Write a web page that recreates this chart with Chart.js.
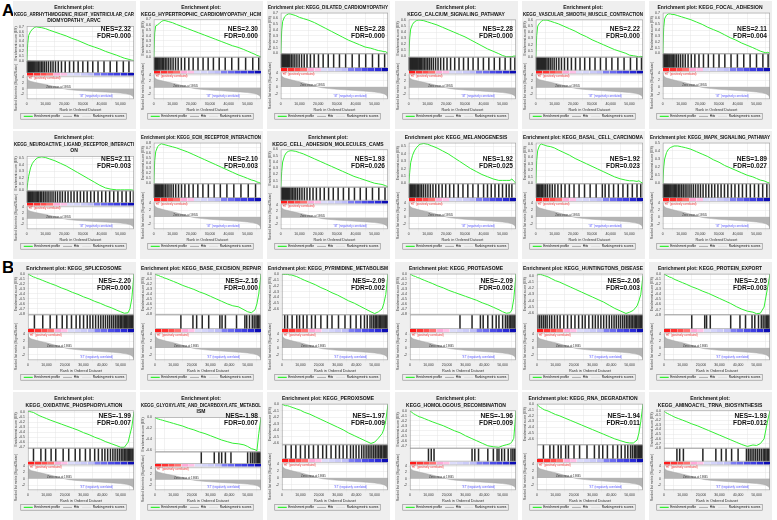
<!DOCTYPE html>
<html><head><meta charset="utf-8">
<script src="https://cdn.jsdelivr.net/npm/chart.js@4/dist/chart.umd.min.js"></script>
<style>
body{margin:0;background:#fff;width:777px;height:520px;position:relative;overflow:hidden;font-family:"Liberation Sans",Arial,sans-serif}
canvas{position:absolute}
.lab{position:absolute;font-weight:bold;font-size:17px;left:2px;line-height:17px}
</style></head><body>
<div class="lab" style="top:2px">A</div>
<div class="lab" style="top:259px">B</div>
<script>
// ---------------- DATA ----------------
const titleLines = [
 ["Enrichment plot:","KEGG_ARRHYTHMOGENIC_RIGHT_VENTRICULAR_CAR","DIOMYOPATHY_ARVC"],
 ["Enrichment plot:","KEGG_HYPERTROPHIC_CARDIOMYOPATHY_HCM"],
 ["Enrichment plot: KEGG_DILATED_CARDIOMYOPATHY"],
 ["Enrichment plot:","KEGG_CALCIUM_SIGNALING_PATHWAY"],
 ["Enrichment plot:","KEGG_VASCULAR_SMOOTH_MUSCLE_CONTRACTION"],
 ["Enrichment plot: KEGG_FOCAL_ADHESION"],
 ["Enrichment plot:","KEGG_NEUROACTIVE_LIGAND_RECEPTOR_INTERACTI","ON"],
 ["Enrichment plot: KEGG_ECM_RECEPTOR_INTERACTION"],
 ["Enrichment plot:","KEGG_CELL_ADHESION_MOLECULES_CAMS"],
 ["Enrichment plot: KEGG_MELANOGENESIS"],
 ["Enrichment plot: KEGG_BASAL_CELL_CARCINOMA"],
 ["Enrichment plot: KEGG_MAPK_SIGNALING_PATHWAY"],
 ["Enrichment plot: KEGG_SPLICEOSOME"],
 ["Enrichment plot: KEGG_BASE_EXCISION_REPAIR"],
 ["Enrichment plot: KEGG_PYRIMIDINE_METABOLISM"],
 ["Enrichment plot: KEGG_PROTEASOME"],
 ["Enrichment plot: KEGG_HUNTINGTONS_DISEASE"],
 ["Enrichment plot: KEGG_PROTEIN_EXPORT"],
 ["Enrichment plot:","KEGG_OXIDATIVE_PHOSPHORYLATION"],
 ["Enrichment plot:","KEGG_GLYOXYLATE_AND_DICARBOXYLATE_METABOL","ISM"],
 ["Enrichment plot: KEGG_PEROXISOME"],
 ["Enrichment plot:","KEGG_HOMOLOGOUS_RECOMBINATION"],
 ["Enrichment plot: KEGG_RNA_DEGRADATION"],
 ["Enrichment plot:","KEGG_AMINOACYL_TRNA_BIOSYNTHESIS"]
];
const nesValues = [2.32,2.30,2.28,2.28,2.22,2.11,2.11,2.10,1.93,1.92,1.92,1.89,
                   -2.20,-2.16,-2.09,-2.09,-2.06,-2.05,-1.99,-1.98,-1.97,-1.96,-1.94,-1.93];
const fdrValues = [0.000,0.000,0.000,0.000,0.000,0.004,0.003,0.003,0.026,0.025,0.023,0.027,
                   0.000,0.000,0.002,0.002,0.003,0.003,0.007,0.007,0.009,0.009,0.011,0.012];
// rank positions (in thousands) at which the running enrichment score was read
const esRanks = [0,0.5,1,2,3,4,5,6,8,10,12,15,18,21,24,27,30,33,36,39,42,45,48,50,52,54,55,56,57.2];
const esProfiles = [
 [0,0.35,0.52,0.6,0.65,0.68,0.7,0.69,0.68,0.66,0.63,0.59,0.55,0.51,0.46,0.42,0.37,0.32,0.28,0.24,0.19,0.15,0.11,0.08,0.05,0.03,0.02,0.01,0],
 [0,0.45,0.58,0.6,0.63,0.66,0.68,0.68,0.66,0.64,0.61,0.57,0.53,0.49,0.45,0.41,0.37,0.33,0.29,0.25,0.21,0.18,0.14,0.11,0.08,0.05,0.03,0.02,0],
 [0,0.4,0.55,0.63,0.66,0.68,0.68,0.67,0.65,0.62,0.6,0.57,0.53,0.48,0.43,0.38,0.33,0.28,0.23,0.19,0.15,0.11,0.09,0.07,0.05,0.04,0.03,0.03,0],
 [0,0.3,0.45,0.53,0.57,0.59,0.6,0.6,0.59,0.57,0.55,0.52,0.48,0.44,0.4,0.36,0.32,0.27,0.22,0.17,0.12,0.08,0.04,0.01,-0.01,-0.01,-0.01,0,0],
 [0,0.35,0.5,0.55,0.58,0.6,0.6,0.6,0.58,0.56,0.54,0.5,0.46,0.42,0.37,0.33,0.28,0.24,0.2,0.16,0.12,0.09,0.06,0.03,0.02,0.01,0,0.01,0],
 [0,0.45,0.6,0.66,0.68,0.68,0.67,0.67,0.65,0.63,0.61,0.58,0.54,0.5,0.45,0.41,0.37,0.32,0.27,0.23,0.18,0.14,0.1,0.07,0.04,0.02,0.01,0.02,0],
 [0,0.12,0.22,0.35,0.42,0.46,0.49,0.51,0.52,0.51,0.49,0.46,0.42,0.38,0.33,0.28,0.23,0.18,0.13,0.08,0.04,0.02,0.01,0.01,0.01,0.01,0.01,0.01,0],
 [0,0.45,0.62,0.72,0.76,0.78,0.77,0.76,0.74,0.72,0.7,0.66,0.62,0.57,0.52,0.47,0.42,0.37,0.32,0.27,0.22,0.17,0.13,0.1,0.07,0.05,0.03,0.02,0],
 [0,0.25,0.4,0.5,0.55,0.57,0.58,0.58,0.57,0.55,0.53,0.49,0.45,0.41,0.37,0.33,0.29,0.25,0.21,0.17,0.14,0.11,0.08,0.06,0.05,0.04,0.03,0.02,0],
 [0,0.15,0.28,0.38,0.44,0.48,0.51,0.53,0.54,0.53,0.51,0.48,0.44,0.4,0.35,0.3,0.25,0.2,0.16,0.12,0.09,0.06,0.04,0.04,0.04,0.04,0.06,0.03,0],
 [0,0.35,0.5,0.58,0.6,0.59,0.58,0.57,0.56,0.54,0.51,0.47,0.43,0.38,0.34,0.3,0.26,0.22,0.18,0.14,0.1,0.07,0.05,0.04,0.04,0.03,0.04,0.02,0],
 [0,0.2,0.3,0.38,0.42,0.44,0.45,0.46,0.46,0.45,0.44,0.42,0.39,0.36,0.33,0.29,0.26,0.22,0.19,0.16,0.13,0.1,0.08,0.06,0.04,0.03,0.02,0.01,0],
 [0,-0.01,-0.02,-0.04,-0.06,-0.07,-0.09,-0.1,-0.13,-0.16,-0.19,-0.23,-0.28,-0.32,-0.37,-0.41,-0.46,-0.5,-0.55,-0.59,-0.64,-0.68,-0.73,-0.76,-0.79,-0.78,-0.7,-0.5,0],
 [0,-0.01,-0.02,-0.03,-0.05,-0.06,-0.08,-0.09,-0.12,-0.15,-0.18,-0.23,-0.27,-0.31,-0.36,-0.4,-0.45,-0.5,-0.55,-0.6,-0.64,-0.66,-0.72,-0.76,-0.78,-0.72,-0.6,-0.4,0],
 [0,0,0,0,0,-0.01,-0.01,-0.02,-0.04,-0.07,-0.1,-0.14,-0.18,-0.23,-0.27,-0.32,-0.36,-0.41,-0.46,-0.5,-0.55,-0.6,-0.65,-0.68,-0.65,-0.6,-0.5,-0.35,0],
 [0,-0.01,-0.02,-0.04,-0.05,-0.07,-0.08,-0.1,-0.13,-0.16,-0.19,-0.24,-0.28,-0.33,-0.37,-0.41,-0.45,-0.49,-0.53,-0.58,-0.62,-0.67,-0.72,-0.76,-0.79,-0.78,-0.72,-0.5,0],
 [0,0.02,0.02,0.02,0.01,0,-0.01,-0.02,-0.05,-0.08,-0.1,-0.14,-0.18,-0.22,-0.26,-0.3,-0.34,-0.38,-0.42,-0.47,-0.52,-0.56,-0.6,-0.58,-0.55,-0.48,-0.4,-0.3,0],
 [0,-0.01,-0.02,-0.04,-0.06,-0.07,-0.09,-0.11,-0.14,-0.17,-0.2,-0.25,-0.29,-0.34,-0.38,-0.43,-0.48,-0.53,-0.58,-0.64,-0.69,-0.73,-0.75,-0.78,-0.77,-0.65,-0.45,-0.25,0],
 [0,0.02,0.01,0,-0.01,-0.03,-0.05,-0.07,-0.1,-0.13,-0.16,-0.2,-0.24,-0.28,-0.32,-0.36,-0.41,-0.45,-0.5,-0.54,-0.59,-0.63,-0.67,-0.7,-0.7,-0.6,-0.45,-0.3,0],
 [0,-0.01,-0.02,-0.03,-0.04,-0.05,-0.06,-0.07,-0.09,-0.11,-0.13,-0.16,-0.2,-0.23,-0.27,-0.3,-0.34,-0.38,-0.42,-0.45,-0.48,-0.49,-0.51,-0.54,-0.58,-0.6,-0.62,-0.3,0],
 [0,0,-0.01,-0.02,-0.02,-0.03,-0.04,-0.05,-0.07,-0.09,-0.12,-0.15,-0.19,-0.23,-0.27,-0.31,-0.35,-0.39,-0.44,-0.48,-0.52,-0.56,-0.6,-0.58,-0.52,-0.45,-0.38,-0.25,0],
 [0,-0.02,-0.03,-0.06,-0.08,-0.1,-0.12,-0.13,-0.16,-0.19,-0.22,-0.26,-0.3,-0.35,-0.4,-0.44,-0.5,-0.55,-0.6,-0.65,-0.7,-0.72,-0.73,-0.7,-0.68,-0.66,-0.62,-0.55,0],
 [0,-0.02,-0.04,-0.06,-0.08,-0.1,-0.11,-0.12,-0.15,-0.18,-0.2,-0.24,-0.28,-0.32,-0.36,-0.4,-0.44,-0.48,-0.52,-0.56,-0.6,-0.63,-0.66,-0.67,-0.67,-0.62,-0.5,-0.3,0],
 [0,-0.02,-0.04,-0.06,-0.08,-0.1,-0.12,-0.14,-0.17,-0.2,-0.23,-0.28,-0.32,-0.37,-0.42,-0.47,-0.52,-0.57,-0.62,-0.67,-0.72,-0.76,-0.73,-0.74,-0.7,-0.6,-0.4,-0.2,0]
];
// y-axis ranges of the running enrichment score panels
const esAxisMin = [-0.005,-0.005,-0.005,-0.02,-0.005,-0.005,-0.005,-0.005,-0.005,-0.005,-0.005,-0.005,
                   -0.82,-0.82,-0.7,-0.82,-0.62,-0.8,-0.72,-0.64,-0.62,-0.75,-0.7,-0.8];
const esAxisMax = [0.71,0.7,0.7,0.61,0.61,0.7,0.53,0.8,0.6,0.55,0.62,0.5,
                   0.005,0.005,0.01,0.005,0.03,0.005,0.03,0.005,0.01,0.005,0.005,0.005];
// gene-set member positions in the ranked list (thousands)
const hitRanks = [
 [0.1,0.25,0.4,0.6,0.8,1.0,1.2,1.5,1.8,2.1,2.5,2.9,3.4,3.8,4.3,4.9,5.5,6.2,7.0,7.8,8.6,9.5,10.5,11.6,12.8,14.0,15.3,16.8,18.5,20.5,22.8,25.0,27.4,29.9,32.5,35.2,38.0,41.2,44.5,48.0,51.5,54.5],
 [0.15,0.3,0.5,0.7,0.95,1.2,1.5,1.9,2.3,2.8,3.3,3.9,4.6,5.3,6.1,7.0,8.0,9.1,10.3,11.6,13.0,14.7,16.5,18.7,21.0,23.6,26.3,29.0,31.8,34.9,38.1,41.6,45.2,49.0,52.8,56.0],
 [0.1,0.3,0.5,0.75,1.0,1.3,1.6,2.0,2.4,2.9,3.5,4.1,4.8,5.6,6.5,7.5,8.6,9.8,11.1,12.5,14.0,15.8,17.8,20.1,22.6,25.3,28.2,31.3,34.6,38.1,41.8,45.3,48.9,52.2,55.4],
 [0.05,0.15,0.25,0.35,0.5,0.65,0.8,1.0,1.2,1.4,1.65,1.9,2.2,2.5,2.85,3.2,3.6,4.0,4.5,5.0,5.6,6.2,6.9,7.6,8.4,9.2,10.1,11.0,12.0,13.1,14.3,15.6,17.0,18.6,20.4,22.3,24.5,26.8,29.2,31.7,34.3,37.0,39.8,42.7,45.6,48.5,51.4,54.3,56.6],
 [0.1,0.25,0.45,0.65,0.9,1.15,1.45,1.8,2.15,2.55,3.0,3.5,4.05,4.65,5.3,6.0,6.8,7.7,8.7,9.8,11.0,12.3,13.7,15.3,17.0,19.0,21.2,23.6,26.1,28.8,31.6,34.5,37.5,40.6,43.8,47.1,50.5,53.9,56.4],
 [0.1,0.3,0.5,0.7,0.9,1.15,1.4,1.7,2.0,2.4,2.8,3.3,3.8,4.4,5.0,5.7,6.5,7.4,8.4,9.5,10.7,12.0,13.5,15.2,17.1,19.3,21.7,24.3,27.1,30.0,33.1,36.4,39.8,43.2,46.6,50.0,53.4,56.2],
 [0.1,0.3,0.5,0.8,1.1,1.4,1.8,2.2,2.7,3.2,3.8,4.4,5.0,5.7,6.4,7.2,8.0,8.9,9.8,10.8,11.8,12.9,14.0,15.2,16.4,17.7,19.0,20.5,22.0,23.6,25.2,26.9,28.6,30.4,32.2,34.1,36.0,38.0,40.0,42.1,44.2,46.4,48.6,50.8,53.0,55.2,56.9],
 [0.1,0.3,0.5,0.7,1.0,1.3,1.6,2.0,2.4,2.9,3.4,4.0,4.7,5.4,6.2,7.1,8.1,9.2,10.4,11.7,13.2,14.8,16.6,18.7,21.0,23.5,26.2,29.1,32.2,35.5,39.0,42.7,46.5,50.4,54.3],
 [0.1,0.3,0.5,0.7,0.9,1.2,1.5,1.8,2.2,2.6,3.1,3.6,4.2,4.8,5.5,6.3,7.1,8.0,9.0,10.1,11.3,12.6,14.0,15.5,17.2,19.0,21.0,23.2,25.5,28.0,30.6,33.4,36.3,39.3,42.4,45.6,48.9,52.3,55.6],
 [0.1,0.3,0.5,0.8,1.1,1.4,1.8,2.2,2.7,3.2,3.8,4.5,5.2,6.0,6.9,7.9,9.0,10.2,11.5,12.9,14.4,16.0,17.8,19.7,21.8,24.0,26.4,28.9,31.5,34.2,37.0,39.9,42.0,44.0,46.0,48.0,50.0,52.0,53.5,55.0],
 [0.2,0.5,0.9,1.3,1.8,2.3,2.9,3.6,4.4,5.3,6.3,7.5,8.8,10.2,11.8,13.6,15.6,17.9,20.4,23.1,26.0,29.0,32.2,35.5,37.0,39.0,41.5,44.0,46.5,49.0,51.5,54.0,56.0],
 [0.1,0.3,0.5,0.7,0.9,1.2,1.5,1.8,2.1,2.5,2.9,3.3,3.8,4.3,4.9,5.5,6.1,6.8,7.5,8.3,9.1,10.0,10.9,11.9,12.9,14.0,15.1,16.3,17.5,18.8,20.1,21.5,23.0,24.5,26.1,27.7,29.4,31.1,32.9,34.7,36.6,38.5,40.5,42.5,44.6,46.7,48.9,51.1,53.3,55.5,57.0],
 [3.5,8.0,12.0,15.5,18.5,21.0,23.5,26.0,28.0,30.0,32.0,33.5,35.0,36.5,38.0,39.3,40.6,41.8,43.0,44.1,45.2,46.2,47.2,48.1,49.0,49.8,50.6,51.3,52.0,52.7,53.3,53.9,54.5,55.0,55.5,56.0,56.4,56.8,57.1],
 [14.0,20.5,22.5,25.5,29.0,35.0,36.2,38.0,44.0,48.5,49.5,51.0,52.5,53.5,54.5,55.3,56.0,56.7],
 [1.5,3.0,5.5,8.0,9.5,11.5,13.5,16.0,18.0,21.0,24.5,27.0,30.5,34.0,37.0,40.0,42.5,44.5,46.0,47.5,48.5,49.5,50.3,51.0,51.8,52.5,53.2,53.9,54.5,55.1,55.7,56.2,56.7,57.1],
 [27.0,33.5,38.0,39.5,42.0,44.5,46.5,48.0,50.0,51.5,52.5,53.5,54.3,55.0,55.6,56.2,56.7,57.1],
 [0.5,1.5,2.5,3.5,4.5,5.5,6.8,8.0,9.5,11.0,12.5,14.5,16.5,18.5,20.5,22.5,24.5,26.0,28.0,30.0,31.5,33.0,34.5,36.0,37.5,39.0,40.3,41.6,42.8,44.0,45.1,46.2,47.2,48.2,49.1,50.0,50.8,51.6,52.4,53.1,53.8,54.5,55.1,55.7,56.3,56.8,57.1],
 [15.0,22.0,23.0,25.0,36.0,41.0,44.0,47.5,49.0,51.0,52.5,53.5,54.5,55.3,56.0,56.6,57.0],
 [3.0,7.0,9.5,12.5,15.0,19.0,22.0,25.5,28.0,31.0,33.5,36.0,38.0,40.0,41.5,43.0,44.5,45.8,47.0,48.2,49.3,50.3,51.2,52.0,52.8,53.5,54.2,54.9,55.5,56.1,56.6,57.0],
 [25.0,32.0,34.5,36.0,38.0,41.0,50.0,51.5,52.5,53.5,54.5,55.2,55.8,56.4,56.9],
 [2.0,5.0,7.5,10.0,12.5,14.5,17.0,19.5,22.0,24.0,26.5,29.0,31.0,33.0,35.0,37.0,38.5,40.0,41.5,43.0,44.2,45.4,46.5,47.5,48.5,49.5,50.4,51.3,52.2,53.0,53.8,54.6,55.3,56.0,56.6,57.1],
 [10.0,11.5,13.0,33.5,35.0,37.0,42.0,45.0,47.0,48.0,49.5,51.0,53.0,54.5,55.5,56.3,57.0],
 [3.5,7.0,9.0,11.5,13.0,15.5,17.0,20.0,23.0,27.0,31.0,33.5,35.5,38.0,41.0,43.5,45.5,47.5,49.0,50.5,51.5,52.5,53.3,54.0,54.7,55.4,56.0,56.5,57.0],
 [7.0,8.5,10.5,21.0,28.0,31.0,33.5,36.5,40.0,44.5,45.5,46.5,47.5,48.5,49.5,50.5,51.5,52.5,53.5,54.3,55.0,55.7,56.3,56.9]
];
// ranked list metric (Signal2Noise) read at rank positions (thousands)
const metricRanks  = [0,0.3,1,2,4,6,8,10,12,14,16,18,19.845,22,26,30,34,38,42,46,50,53,55,56.5,57.2];
const metricValues = [4.2,3.4,2.9,2.6,2.3,2.0,1.75,1.5,1.2,0.9,0.6,0.3,0,-0.25,-0.5,-0.7,-0.85,-1.0,-1.15,-1.3,-1.5,-1.75,-2.0,-2.5,-3.3];
const zeroCross = 19845;
const datasetSize = 57.2; // thousands of genes
// colour bar under the hits (red = positively correlated -> blue = negatively correlated)
const stripColors = ['#ff1a1a','#ff3333','#ff4d4d','#ff7070','#ffa8d8','#ffc0e6','#dcdcfa','#d4d4fa',
                     '#cacaf8','#bdbdf8','#7d7df2','#6a6af0','#4c4ce8','#3d3de2','#2a2ad8','#0c0cb4'];

// ---------------- DRAWING ----------------
Chart.defaults.font.family = '"Liberation Sans", Arial, sans-serif';
Chart.defaults.color = '#333';
const FONT = '"Liberation Sans", Arial, sans-serif';
const colX = [13,140,267,395,522,649];
const rowY = [1,131,262,392];
const stripStep = datasetSize / stripColors.length;

const gseaPlugin = {
  id: 'gsea',
  beforeDraw(chart) {
    const {ctx, chartArea: a} = chart;
    ctx.save();
    ctx.fillStyle = '#efefef';
    ctx.fillRect(0, 0, chart.width, chart.height);
    ctx.fillStyle = '#fff';
    ctx.fillRect(a.left, a.top, a.width, a.height);
    ctx.restore();
  },
  beforeDatasetsDraw(chart) {
    const {ctx, chartArea: a, scales: s} = chart;
    ctx.save();
    ctx.fillStyle = '#fff';
    ctx.fillRect(a.left, s.yHit.top, a.width, s.yHit.bottom - s.yHit.top);
    ctx.restore();
  },
  afterDatasetsDraw(chart, args, o) {
    const {ctx, chartArea: a, scales: s} = chart;
    ctx.save();
    ctx.strokeStyle = '#999'; ctx.lineWidth = 0.6;
    for (const id of ['yES','yHit','yRank']) {
      const sc = s[id];
      ctx.strokeRect(a.left + 0.3, sc.top + 0.3, a.width - 0.6, sc.bottom - sc.top - 0.6);
    }
    // NES / FDR
    ctx.fillStyle = '#111';
    ctx.font = 'bold 6.6px ' + FONT;
    ctx.textAlign = 'right'; ctx.textBaseline = 'middle';
    ctx.fillText('NES=' + o.nes.toFixed(2), a.right - 3, o.nesY);
    ctx.fillText('FDR=' + o.fdr.toFixed(3), a.right - 3, o.nesY + 7);
    // ranked-list annotations
    const x = s.x, yr = s.yRank;
    ctx.font = '2.8px ' + FONT;
    ctx.textAlign = 'left'; ctx.fillStyle = '#f03030';
    ctx.fillText("'HT' (positively correlated)", a.left + 1.5, yr.top + 2.5);
    ctx.textAlign = 'center'; ctx.fillStyle = '#5050ff';
    ctx.fillText("'ST' (negatively correlated)", x.getPixelForValue(37), yr.bottom - 2.5);
    ctx.fillStyle = '#333';
    ctx.fillText('Zero cross at ' + zeroCross, x.getPixelForValue(17), yr.getPixelForValue(0) - 2);
    ctx.restore();
  },
  afterDraw(chart) {
    const hb = chart.legend && chart.legend.legendHitBoxes;
    if (!hb || !hb.length) return;
    const ctx = chart.ctx;
    const x0 = Math.min(...hb.map(b => b.left)) - 3;
    const x1 = Math.max(...hb.map(b => b.left + b.width)) + 2;
    const y0 = hb[0].top - 1.2, y1 = hb[0].top + hb[0].height + 1.2;
    ctx.save();
    ctx.strokeStyle = '#888'; ctx.lineWidth = 0.6;
    ctx.strokeRect(x0, y0, x1 - x0, y1 - y0);
    ctx.restore();
  }
};

function makePanel(i) {
  const cv = document.createElement('canvas');
  cv.width = 123; cv.height = 128;
  cv.style.left = colX[i % 6] + 'px';
  cv.style.top = rowY[Math.floor(i / 6)] + 'px';
  document.body.appendChild(cv);
  const row = Math.floor(i / 6);
  const nesY = row < 2 ? 28.5 : (row === 2 ? 19 : 24.5);
  const tickFont = {size: 3.4};
  const stripSets = stripColors.map((c, k) => ({
    label: 'strip', yAxisID: 'yStrip', order: 3,
    data: [{x: k * stripStep, y: 1}, {x: (k + 1) * stripStep, y: 1}],
    borderWidth: 0, borderColor: c, backgroundColor: c, pointRadius: 0, fill: 'origin'
  }));
  new Chart(cv.getContext('2d'), {
    type: 'line',
    data: {datasets: [
      {label: 'Enrichment profile', yAxisID: 'yES', order: 0,
       data: esRanks.map((r, k) => ({x: r, y: esProfiles[i][k]})),
       borderColor: '#33ee33', borderWidth: 1, pointRadius: 0, tension: 0, fill: false},
      {type: 'bar', label: 'Hits', yAxisID: 'yHit', order: 1, grouped: false,
       data: hitRanks[i].map(h => ({x: h, y: [0, 1]})),
       backgroundColor: '#262626', barThickness: 0.85},
      {label: 'Ranking metric scores', yAxisID: 'yRank', order: 2,
       data: metricRanks.map((r, k) => ({x: r, y: metricValues[k]})),
       borderColor: '#a8a8a8', backgroundColor: '#b4b4b4', borderWidth: 0.5, pointRadius: 0, tension: 0, fill: 'origin'},
      ...stripSets
    ]},
    options: {
      responsive: false, animation: false, devicePixelRatio: 1,
      layout: {padding: {left: 1, right: 2, top: 0, bottom: 1}},
      plugins: {
        tooltip: {enabled: false},
        title: {display: true, text: titleLines[i], color: '#111',
                font: {size: 5, weight: 'bold', lineHeight: 1.35}, padding: {top: 3, bottom: 2}},
        legend: {position: 'bottom',
          labels: {font: {size: 3.2}, color: '#222', usePointStyle: true, pointStyleWidth: 9, boxHeight: 3, padding: 3,
            generateLabels: () => [
              {text: 'Enrichment profile', strokeStyle: '#33ee33', fillStyle: '#33ee33', lineWidth: 1.2, pointStyle: 'line', datasetIndex: 0},
              {text: 'Hits', strokeStyle: '#777', fillStyle: '#777', lineWidth: 0.6, pointStyle: 'line', datasetIndex: 1},
              {text: 'Ranking metric scores', strokeStyle: '#ddd', fillStyle: '#ddd', lineWidth: 1, pointStyle: 'line', datasetIndex: 2}
            ]}},
        gsea: {nes: nesValues[i], fdr: fdrValues[i], nesY: nesY}
      },
      scales: {
        x: {type: 'linear', min: 0, max: datasetSize, offset: false,
            ticks: {stepSize: 10, includeBounds: false, font: tickFont, padding: 1, maxRotation: 0, autoSkip: false,
                    callback: v => (v * 1000).toLocaleString('en-US')},
            grid: {color: '#e4e4e4', lineWidth: 0.5, tickLength: 2},
            border: {display: false},
            title: {display: true, text: 'Rank in Ordered Dataset', font: {size: 3.8}, padding: {top: 0, bottom: 0}}},
        yES: {type: 'linear', position: 'left', stack: 'g', stackWeight: 46, weight: 4,
              min: esAxisMin[i], max: esAxisMax[i],
              ticks: {stepSize: i === 19 ? 0.2 : 0.1, includeBounds: false, autoSkip: false, font: tickFont, padding: 1,
                      callback: v => v.toFixed(1)},
              grid: {color: '#e4e4e4', lineWidth: 0.5, tickLength: 2}, border: {display: false},
              title: {display: true, text: 'Enrichment score (ES)', font: {size: 3.4}, padding: 0}},
        yHit: {type: 'linear', position: 'left', stack: 'g', stackWeight: 16, weight: 3, min: 0, max: 1,
               ticks: {display: false}, grid: {display: false}, border: {display: false}},
        yStrip: {type: 'linear', position: 'left', stack: 'g', stackWeight: 4, weight: 2, min: 0, max: 1,
                 ticks: {display: false}, grid: {display: false}, border: {display: false}},
        yRank: {type: 'linear', position: 'left', stack: 'g', stackWeight: 31, weight: 1, min: -3.6, max: 4.5,
                ticks: {stepSize: 2, includeBounds: false, autoSkip: false, font: tickFont, padding: 1},
                grid: {color: '#e4e4e4', lineWidth: 0.5, tickLength: 2}, border: {display: false},
                title: {display: true, text: 'Ranked list metric (Signal2Noise)', font: {size: 3.2}, padding: 0}}
      }
    },
    plugins: [gseaPlugin]
  });
}
for (let i = 0; i < 24; i++) makePanel(i);
</script>
</body></html>
